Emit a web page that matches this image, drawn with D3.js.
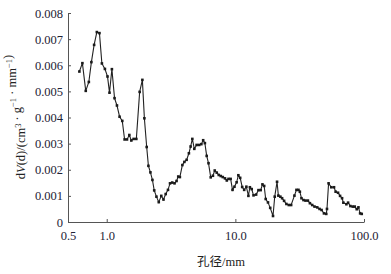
<!DOCTYPE html>
<html>
<head>
<meta charset="utf-8">
<script src="https://cdn.jsdelivr.net/npm/d3@7"></script>
<style>
  body { margin: 0; background: #fff; }
  svg { display: block; }
</style>
</head>
<body>
<div id="wrapper"></div>
<script>
// pore size (mm)
const poreSize = [
  0.613, 0.647, 0.687, 0.726, 0.760, 0.798, 0.838, 0.878, 0.917, 0.968,
  1.014, 1.051, 1.097, 1.150, 1.201, 1.259, 1.321, 1.377, 1.437, 1.499,
  1.553, 1.619, 1.699, 1.803, 1.893, 1.962, 2.045, 2.109, 2.186, 2.266,
  2.340, 2.435, 2.538, 2.655, 2.762, 2.874, 2.994, 3.105, 3.230, 3.366,
  3.490, 3.598, 3.703, 3.873, 4.015, 4.178, 4.353, 4.489, 4.629, 4.797,
  5.000, 5.230, 5.441, 5.620, 5.795, 5.985, 6.183, 6.433, 6.693, 6.913,
  7.167, 7.430, 7.702, 7.982, 8.305, 8.580, 8.847, 9.187, 9.505, 9.836,
  10.23, 10.55, 10.90, 11.30, 11.71, 12.18, 12.63, 12.97, 13.40, 13.84,
  14.50, 15.12, 15.73, 16.24, 16.75, 17.21, 17.93, 18.66, 19.62, 20.23,
  21.09, 21.59, 22.38, 23.08, 23.92, 24.93, 26.03, 27.14, 28.79, 29.85,
  30.94, 31.72, 32.65, 33.85, 35.09, 36.63, 37.98, 39.58, 41.25, 43.30,
  45.13, 46.78, 48.84, 50.90, 51.55, 53.05, 55.70, 58.47, 60.19, 62.84,
  65.15, 67.54, 69.13, 72.97, 75.22, 78.40, 81.72, 84.71, 87.81, 90.53,
  93.32, 96.03
]
// dV(d) values
const dVd = [
  0.00576, 0.00608, 0.00502, 0.00536, 0.00612, 0.00678, 0.00727, 0.00723, 0.00607, 0.00586,
  0.00557, 0.00495, 0.00585, 0.00474, 0.00446, 0.00403, 0.00387, 0.00316, 0.00316, 0.00333,
  0.00312, 0.00318, 0.00318, 0.00498, 0.00544, 0.00397, 0.00287, 0.00215, 0.00190, 0.00161,
  0.00121, 0.00097, 0.00076, 0.00100, 0.00086, 0.00107, 0.00123, 0.00148, 0.00151, 0.00148,
  0.00157, 0.00174, 0.00172, 0.00218, 0.00230, 0.00238, 0.00263, 0.00289, 0.00318, 0.00280,
  0.00295, 0.00295, 0.00298, 0.00313, 0.00302, 0.00253, 0.00225, 0.00171, 0.00177, 0.00197,
  0.00189, 0.00180, 0.00176, 0.00172, 0.00167, 0.00159, 0.00165, 0.00165, 0.00123, 0.00135,
  0.00152, 0.00179, 0.00169, 0.00134, 0.00123, 0.00135, 0.00100, 0.00133, 0.00126, 0.00102,
  0.00105, 0.00122, 0.00122, 0.00144, 0.00138, 0.00088, 0.00075, 0.00054, 0.00023, 0.00097,
  0.00154, 0.00101, 0.00097, 0.00091, 0.00081, 0.00069, 0.00065, 0.00065, 0.00101, 0.00123,
  0.00123, 0.00116, 0.00091, 0.00084, 0.00082, 0.00082, 0.00072, 0.00065, 0.00059, 0.00056,
  0.00050, 0.00046, 0.00033, 0.00031, 0.00050, 0.00148, 0.00133, 0.00133, 0.00116, 0.00112,
  0.00100, 0.00091, 0.00074, 0.00068, 0.00074, 0.00061, 0.00059, 0.00059, 0.00049, 0.00056,
  0.00033, 0.00031
]
const xTicks = [0.5, 1, 10, 100]
const yTicks = [0, 0.001, 0.002, 0.003, 0.004, 0.005, 0.006, 0.007, 0.008]

const dataset = poreSize.map(function(d, i){
  return { x: d, y: dVd[i] }
})

/* dimensions */
let dimensions = {
  width: 391,
  height: 274,
  margin: { top: 13, right: 27, bottom: 52, left: 68 },
}
dimensions.boundedWidth = dimensions.width - dimensions.margin.left - dimensions.margin.right
dimensions.boundedHeight = dimensions.height - dimensions.margin.top - dimensions.margin.bottom

const wrapper = d3.select("#wrapper")
  .append("svg")
  .attr("width", dimensions.width)
  .attr("height", dimensions.height)

const bounds = wrapper.append("g")
  .attr("transform", `translate(${dimensions.margin.left},${dimensions.margin.top})`)

/* scales */
const xScale = d3.scaleLog()
  .domain([0.5, 100])
  .range([0, dimensions.boundedWidth])

const yScale = d3.scaleLinear()
  .domain([0, 0.008])
  .range([dimensions.boundedHeight, 0])

/* line + markers */
const lineGenerator = d3.line()
  .x(d => xScale(d.x))
  .y(d => yScale(d.y))

bounds.append("path")
  .datum(dataset)
  .attr("d", lineGenerator)
  .attr("fill", "none")
  .attr("stroke", "#222")
  .attr("stroke-width", 1.1)

bounds.selectAll(".pt")
  .data(dataset)
  .join("rect")
  .attr("class", "pt")
  .attr("x", d => xScale(d.x) - 1.3)
  .attr("y", d => yScale(d.y) - 1.3)
  .attr("width", 2.6)
  .attr("height", 2.6)
  .attr("fill", "#1a1a1a")

/* axes */
const tickFont = "'Liberation Serif', 'Times New Roman', serif"

const yAxis = bounds.append("g")
  .call(d3.axisLeft(yScale)
    .tickValues(yTicks)
    .tickFormat(d => d === 0 ? "0" : d3.format(".3f")(d))
    .tickSizeInner(-3)
    .tickSizeOuter(0)
    .tickPadding(5))

const xAxis = bounds.append("g")
  .attr("transform", `translate(0,${dimensions.boundedHeight})`)
  .call(d3.axisBottom(xScale)
    .tickValues(xTicks)
    .tickFormat(d3.format(".1f"))
    .tickSizeInner(-3)
    .tickSizeOuter(0)
    .tickPadding(9))

;[xAxis, yAxis].forEach(function(ax){
  ax.select(".domain").attr("stroke", "#555")
  ax.selectAll(".tick line").attr("stroke", "#555")
  ax.selectAll(".tick text")
    .attr("fill", "#1e2235")
    .style("font-family", tickFont)
    .style("font-size", "12.5px")
})

/* axis titles */
wrapper.append("text")
  .attr("x", 221)
  .attr("y", 266)
  .attr("text-anchor", "middle")
  .attr("fill", "#222")
  .style("font-size", "12.5px")
  .call(function(t){
    t.append("tspan").style("font-family", "'Noto Sans CJK SC', sans-serif").text("孔径")
    t.append("tspan").style("font-family", tickFont).text("/mm")
  })

const yTitle = wrapper.append("text")
  .attr("transform", "translate(25,117) rotate(-90)")
  .attr("text-anchor", "middle")
  .attr("fill", "#222")
  .style("font-family", tickFont)
  .style("font-size", "12.5px")

const sup = function(txt){
  yTitle.append("tspan").attr("dy", -4.5).style("font-size", "8.5px").text(txt)
  yTitle.append("tspan").attr("dy", 4.5).text("")
}
yTitle.append("tspan").text("d")
yTitle.append("tspan").style("font-style", "italic").text("V")
yTitle.append("tspan").text("(d)/(cm")
sup("3")
yTitle.append("tspan").text(" · g")
sup("−1")
yTitle.append("tspan").text(" · mm")
sup("−1")
yTitle.append("tspan").text(")")
</script>
</body>
</html>
